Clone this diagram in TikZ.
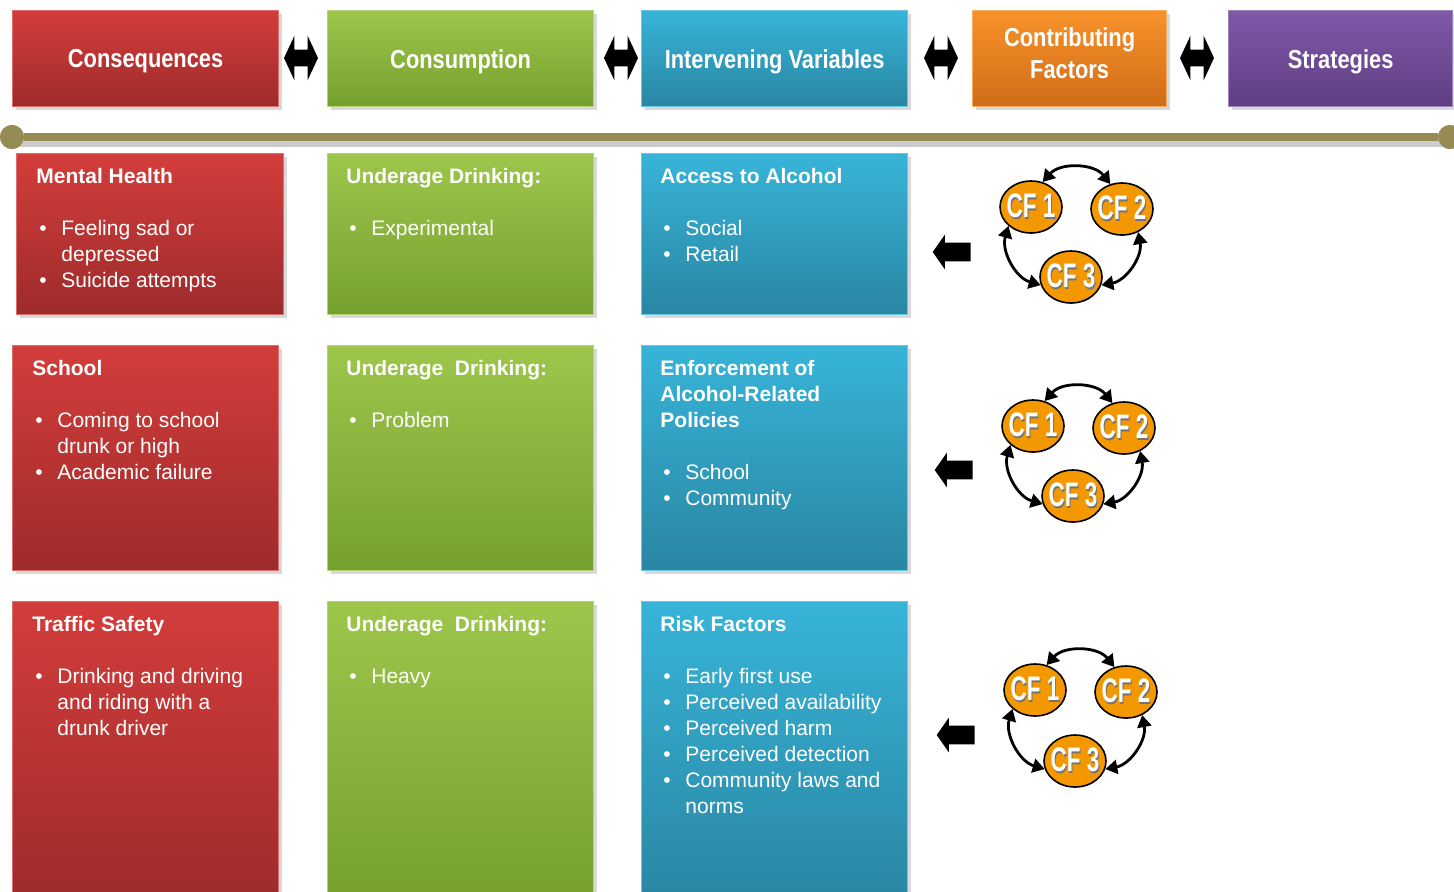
\documentclass[tikz,border=0pt]{standalone}
\usepackage{fontspec}
\setmainfont{Liberation Sans}
\newfontfamily\narrowfont[FakeStretch=0.84]{Liberation Sans}
\newfontfamily\cffont[FakeStretch=0.66]{Liberation Sans}
\usetikzlibrary{positioning,shapes.geometric,shapes.arrows,shadows,arrows.meta}

\definecolor{redtop}{HTML}{D33D3B}
\definecolor{redbot}{HTML}{9D2B2B}
\definecolor{greentop}{HTML}{9DC64B}
\definecolor{greenbot}{HTML}{76A02E}
\definecolor{bluetop}{HTML}{37B4D9}
\definecolor{bluebot}{HTML}{2A86A2}
\definecolor{orangetop}{HTML}{F8922B}
\definecolor{orangebot}{HTML}{D06C18}
\definecolor{purpletop}{HTML}{7F58A9}
\definecolor{purplebot}{HTML}{5F3E82}
\definecolor{linecol}{HTML}{978B54}
\definecolor{cforange}{HTML}{F39800}

% bullet lines inside the cards
\newcommand{\itembul}{\makebox[12.5pt][l]{\hspace{1.5pt}\textbullet}}
\newcommand{\itemgap}{\hspace*{12.5pt}}
\newcommand{\cflabel}[1]{\makebox[0pt]{\raisebox{-1pt}{\hspace{1pt}\color{black!55}#1}}\makebox[0pt]{#1}}

\begin{document}
\begin{tikzpicture}[x=0.5pt,y=-0.5pt]
	\useasboundingbox (0,0) rectangle (1454,891);
	\tikzstyle{panel} = [rectangle, anchor=north west, inner sep=0pt, line width=0.6pt, drop shadow={opacity=0.3, shadow xshift=1.5pt, shadow yshift=-1.5pt}];
	\tikzstyle{redfill} = [top color=redtop, bottom color=redbot, draw=redtop!75!white];
	\tikzstyle{greenfill} = [top color=greentop, bottom color=greenbot, draw=greentop!75!white];
	\tikzstyle{bluefill} = [top color=bluetop, bottom color=bluebot, draw=bluetop!75!white];
	\tikzstyle{orangefill} = [top color=orangetop, bottom color=orangebot, draw=orangetop!75!white];
	\tikzstyle{purplefill} = [top color=purpletop, bottom color=purplebot, draw=purpletop!75!white];
	\tikzstyle{head} = [panel, text=white, align=center, minimum height=48pt, text depth=0pt, font=\narrowfont\bfseries\fontsize{13}{16}\selectfont];
	\tikzstyle{card} = [panel, minimum width=133pt];
	\tikzstyle{cardtext} = [text=white, align=left, inner sep=0pt, font=\fontsize{10.5}{13}\selectfont];
	\tikzstyle{dblarrow} = [double arrow, fill=black, inner sep=4pt, minimum height=17pt, double arrow head extend=7pt, double arrow tip angle=130];
	\tikzstyle{pointer} = [single arrow, fill=black, shape border rotate=180, inner sep=4.5pt, minimum height=19pt, single arrow head extend=4pt, single arrow tip angle=110];
	\tikzstyle{knob} = [circle, fill=linecol, inner sep=0pt, minimum size=12pt];
	\tikzstyle{cf} = [ellipse, draw=black, line width=0.8pt, fill=cforange, minimum width=31pt, minimum height=26pt, inner sep=0pt, text=white, font=\cffont\bfseries\fontsize{17}{17}\selectfont];
	\tikzstyle{cfarrow} = [{Triangle[length=6pt,width=7pt]}-{Triangle[length=6pt,width=7pt]}, line width=1.4pt];
	
	% column heads
	\node[head, redfill, minimum width=133pt] (hCons) at (12,10) {Consequences};
	\node[head, greenfill, minimum width=133pt] (hUse) at (327,10) {Consumption};
	\node[head, bluefill, minimum width=133pt] (hVars) at (641,10) {Intervening Variables};
	\node[head, orangefill, minimum width=97pt, text depth=6pt] (hFactors) at (972,10) {Contributing\\Factors};
	\node[head, purplefill, minimum width=112pt] (hStrat) at (1228,10) {Strategies};
	
	\node[dblarrow] (d1) at (301,58) {};
	\node[dblarrow] (d2) at (621,58) {};
	\node[dblarrow] (d3) at (941,58) {};
	\node[dblarrow] (d4) at (1197,58) {};
	
	% time line
	\node[knob] (tlL) at (12,137) {};
	\node[knob] (tlR) at (1450,137) {};
	\draw[line width=4pt, black!20] ([yshift=-3pt]tlL.center) -- ([yshift=-3pt]tlR.center);
	\node[knob] at (tlL) {};
	\node[knob] at (tlR) {};
	\draw[line width=4pt, linecol] (tlL) -- (tlR);
	
	% first row
	\node[card, redfill, minimum width=133.5pt, minimum height=80.5pt] (mental) at (16,153) {};
	\node[card, greenfill, minimum height=80.5pt] (exper) at (327,153) {};
	\node[card, bluefill, minimum height=80.5pt] (access) at (641,153) {};
	\node[cardtext, below right=7.5pt and 10pt of mental.north west] (mentalTxt) {\textbf{Mental Health}\\[13pt]
		\itembul Feeling sad or\\ \itemgap depressed\\ \itembul Suicide attempts};
	\node[cardtext, below right=7.5pt and 9.5pt of exper.north west] (experTxt) {\textbf{Underage Drinking:}\\[13pt]
		\itembul Experimental};
	\node[cardtext, below right=7.5pt and 9.5pt of access.north west] (accessTxt) {\textbf{Access to Alcohol}\\[13pt]
		\itembul Social\\ \itembul Retail};
	
	% second row
	\node[card, redfill, minimum height=112.5pt] (school) at (12,345) {};
	\node[card, greenfill, minimum height=112.5pt] (problem) at (327,345) {};
	\node[card, bluefill, minimum height=112.5pt] (enforce) at (641,345) {};
	\node[cardtext, below right=7.5pt and 10pt of school.north west] (schoolTxt) {\textbf{School}\\[13pt]
		\itembul Coming to school\\ \itemgap drunk or high\\ \itembul Academic failure};
	\node[cardtext, below right=7.5pt and 9.5pt of problem.north west] (problemTxt) {\textbf{Underage~ Drinking:}\\[13pt]
		\itembul Problem};
	\node[cardtext, below right=7.5pt and 9.5pt of enforce.north west] (enforceTxt) {\textbf{Enforcement of}\\ \textbf{Alcohol-Related}\\ \textbf{Policies}\\[13pt]
		\itembul School\\ \itembul Community};
	
	% third row
	\node[card, redfill, minimum height=150pt] (traffic) at (12,601) {};
	\node[card, greenfill, minimum height=150pt] (heavy) at (327,601) {};
	\node[card, bluefill, minimum height=150pt] (risk) at (641,601) {};
	\node[cardtext, below right=7.5pt and 10pt of traffic.north west] (trafficTxt) {\textbf{Traffic Safety}\\[13pt]
		\itembul Drinking and driving\\ \itemgap and riding with a\\ \itemgap drunk driver};
	\node[cardtext, below right=7.5pt and 9.5pt of heavy.north west] (heavyTxt) {\textbf{Underage~ Drinking:}\\[13pt]
		\itembul Heavy};
	\node[cardtext, below right=7.5pt and 9.5pt of risk.north west] (riskTxt) {\textbf{Risk Factors}\\[13pt]
		\itembul Early first use\\ \itembul Perceived availability\\ \itembul Perceived harm\\
		\itembul Perceived detection\\ \itembul Community laws and\\ \itemgap norms};
	
	% contributing factor loops
	\node[pointer] (p1) at (955,252) {};
	\node[cf] (CF1a) at (1031,207) {\cflabel{CF 1}};
	\node[cf] (CF2a) at (1122,209) {\cflabel{CF 2}};
	\node[cf] (CF3a) at (1071,277) {\cflabel{CF 3}};
	\path (CF1a.65) edge[cfarrow, bend left=50] (CF2a.115);
	\path (CF1a.220) edge[cfarrow, bend right=45] (CF3a.195);
	\path (CF2a.305) edge[cfarrow, bend left=45] (CF3a.345);
	
	\node[pointer] (p2) at (957,470) {};
	\node[cf] (CF1b) at (1033,426) {\cflabel{CF 1}};
	\node[cf] (CF2b) at (1124,428) {\cflabel{CF 2}};
	\node[cf] (CF3b) at (1073,496) {\cflabel{CF 3}};
	\path (CF1b.65) edge[cfarrow, bend left=50] (CF2b.115);
	\path (CF1b.220) edge[cfarrow, bend right=45] (CF3b.195);
	\path (CF2b.305) edge[cfarrow, bend left=45] (CF3b.345);
	
	\node[pointer] (p3) at (959,735) {};
	\node[cf] (CF1c) at (1035,690) {\cflabel{CF 1}};
	\node[cf] (CF2c) at (1126,692) {\cflabel{CF 2}};
	\node[cf] (CF3c) at (1075,761) {\cflabel{CF 3}};
	\path (CF1c.65) edge[cfarrow, bend left=50] (CF2c.115);
	\path (CF1c.220) edge[cfarrow, bend right=45] (CF3c.195);
	\path (CF2c.305) edge[cfarrow, bend left=45] (CF3c.345);
\end{tikzpicture}
\end{document}
